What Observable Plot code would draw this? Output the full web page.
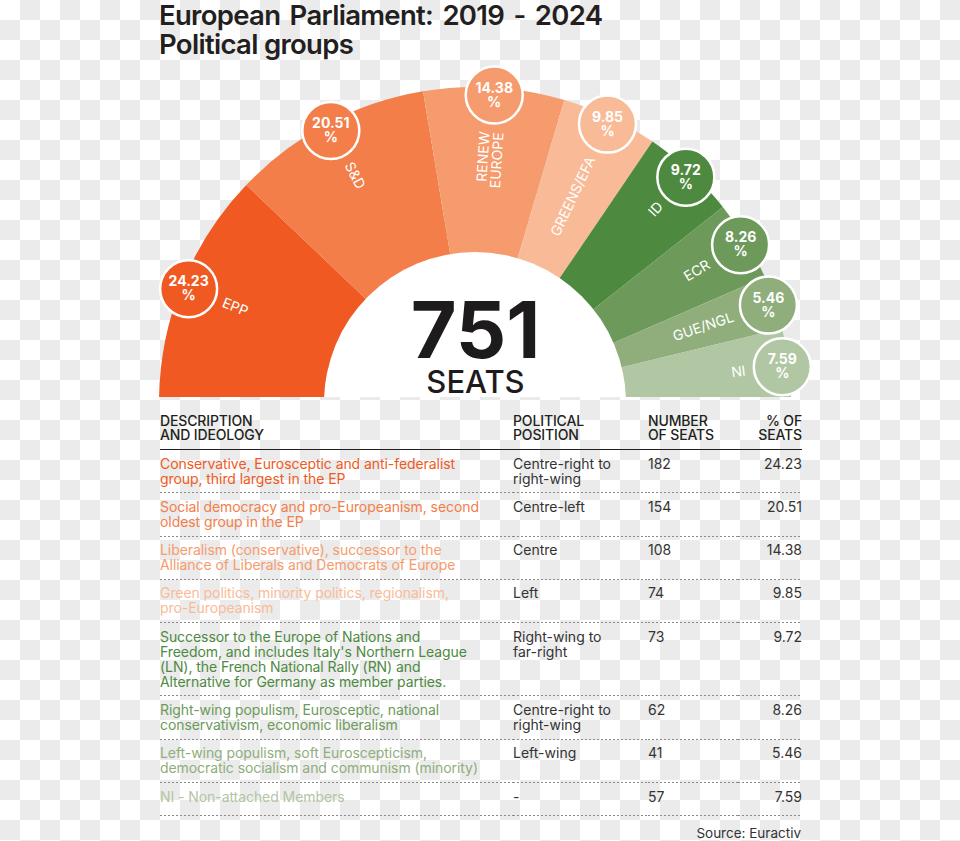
<!DOCTYPE html>
<html>
<head>
<meta charset="utf-8">
<script src="https://cdn.jsdelivr.net/npm/d3@7"></script>
<script src="https://cdn.jsdelivr.net/npm/@observablehq/plot@0.6"></script>
<style>
  html, body { margin: 0; padding: 0; }
  body {
    width: 960px; height: 841px; overflow: hidden;
    background-color: #fff;
    background-image: repeating-conic-gradient(#ebebeb 0 25%, #fff 0 50%);
    background-size: 40px 40px;
    font-family: "Inter", "Liberation Sans", sans-serif;
    color: #222;
  }
  #wrap { position: relative; width: 960px; height: 841px; }
  #title {
    position: absolute; left: 159px; top: 1px;
    font-size: 27.5px; line-height: 28.5px; font-weight: 600;
    letter-spacing: -0.025em; color: #231f20; white-space: nowrap;
  }
  #title .l1 { word-spacing: 3px; }
  #chart { position: absolute; left: 0; top: 58px; }
  #table {
    position: absolute; left: 160px; top: 410px; width: 642px;
    border-collapse: collapse; table-layout: fixed;
  }
  #table th {
    text-align: left; vertical-align: top; font-weight: 500;
    font-size: 14px; line-height: 14px; padding: 3.5px 0 7.5px 0;
    border-bottom: 1.5px solid #231f20; color: #231f20; letter-spacing: -0.01em;
  }
  #table td {
    vertical-align: top; font-size: 14px; line-height: 15px;
    padding: 5.5px 0 7.8px 0; white-space: pre; color: #333;
    background-image: linear-gradient(to right, #8a8a8a 50%, transparent 50%);
    background-size: 4px 1px; background-repeat: repeat-x; background-position: left bottom;
  }
  #table td.d { letter-spacing: -0.005em; }
  #table tr:last-child td { padding-bottom: 12.8px; }
  #table .r { text-align: right; }
  #source {
    position: absolute; right: 159px; top: 825px;
    font-size: 13.5px; color: #333;
  }
</style>
</head>
<body>
<div id="wrap">
  <div id="title"><span class="l1">European Parliament: 2019 - 2024</span><br>Political groups</div>
  <div id="chart"></div>
  <table id="table"></table>
  <div id="source">Source: Euractiv</div>
</div>
<script>
// ---- data ----
const groups = ["EPP", "S&D", "RENEW\nEUROPE", "GREENS/EFA", "ID", "ECR", "GUE/NGL", "NI"];
const seats = [182, 154, 108, 74, 73, 62, 41, 57];
const shares = [24.23, 20.51, 14.38, 9.85, 9.72, 8.26, 5.46, 7.59];
const colors = ["#f05a22", "#f37e49", "#f69b6d", "#f9bb97", "#4d8a3f", "#6d9a5a", "#8fae7c", "#b1c6a2"];
const descriptions = [
  "Conservative, Eurosceptic and anti-federalist\ngroup, third largest in the EP",
  "Social democracy and pro-Europeanism, second\noldest group in the EP",
  "Liberalism (conservative), successor to the\nAlliance of Liberals and Democrats of Europe",
  "Green politics, minority politics, regionalism,\npro-Europeanism",
  "Successor to the Europe of Nations and\nFreedom, and includes Italy's Northern League\n(LN), the French National Rally (RN) and\nAlternative for Germany as member parties.",
  "Right-wing populism, Eurosceptic, national\nconservativism, economic liberalism",
  "Left-wing populism, soft Euroscepticism,\ndemocratic socialism and communism (minority)",
  "NI - Non-attached Members"
];
const positions = ["Centre-right to\nright-wing", "Centre-left", "Centre", "Left", "Right-wing to\nfar-right", "Centre-right to\nright-wing", "Left-wing", "-"];
const headers = ["DESCRIPTION\nAND IDEOLOGY", "POLITICAL\nPOSITION", "NUMBER\nOF SEATS", "% OF\nSEATS"];

// ---- geometry (style) ----
const R_OUT = 316, R_IN = 151, R_BUBBLE = 309, R_LABEL = 272, BASE = 6;
const total = d3.sum(seats);
let cum = 0;
const rows = groups.map((g, i) => {
  const a0 = Math.PI * (1 - cum / total);
  cum += seats[i];
  const a1 = Math.PI * (1 - cum / total);
  return {group: g, seats: seats[i], share: shares[i], color: colors[i], a0, a1, mid: (a0 + a1) / 2};
});
const deg = (a) => a * 180 / Math.PI;

function wedges(index, scales) {
  const cx = scales.x(0), cy = scales.y(0);
  const k = (r) => Math.abs(scales.x(r) - scales.x(0));
  const arc = d3.arc();
  const outer = d3.create("svg:g");
  outer.append("clipPath").attr("id", "hemi").append("rect")
    .attr("x", 0).attr("y", 0).attr("width", 960).attr("height", scales.y(BASE));
  const g = outer.append("g").attr("clip-path", "url(#hemi)")
    .append("g").attr("transform", `translate(${cx},${cy})`);
  g.selectAll("path.w").data(rows).join("path")
    .attr("fill", d => d.color)
    .attr("d", d => arc({innerRadius: k(R_IN) - 1, outerRadius: k(R_OUT),
      startAngle: Math.PI / 2 - d.a0, endAngle: Math.PI / 2 - d.a1}));
  g.append("path").attr("fill", "#fff")
    .attr("d", arc({innerRadius: 0, outerRadius: k(R_IN), startAngle: -Math.PI / 2, endAngle: Math.PI / 2}));
  return outer.node();
}

const left = rows.filter(d => d.mid > Math.PI / 2);
const right = rows.filter(d => d.mid <= Math.PI / 2);
const font = "Inter, 'Liberation Sans', sans-serif";

const plot = Plot.plot({
  width: 960, height: 345, margin: 0,
  x: {type: "linear", domain: [-475, 485], range: [0, 960], axis: null},
  y: {type: "linear", domain: [0, 345], range: [345, 0], axis: null},
  color: {type: "identity"},
  style: {background: "transparent", overflow: "visible", fontFamily: font},
  marks: [
    wedges,
    Plot.text(left, {
      x: d => R_LABEL * Math.cos(d.mid), y: d => R_LABEL * Math.sin(d.mid),
      text: "group", rotate: d => 180 - deg(d.mid), textAnchor: "start",
      fill: "white", fontSize: 14, lineHeight: 1.0
    }),
    Plot.text(right, {
      x: d => R_LABEL * Math.cos(d.mid), y: d => R_LABEL * Math.sin(d.mid),
      text: "group", rotate: d => -deg(d.mid), textAnchor: "end",
      fill: "white", fontSize: 14, lineHeight: 1.0
    }),
    Plot.dot(rows, {
      x: d => R_BUBBLE * Math.cos(d.mid), y: d => R_BUBBLE * Math.sin(d.mid),
      r: 28.5, fill: "color", stroke: "white", strokeWidth: 2.5
    }),
    Plot.text(rows, {
      x: d => R_BUBBLE * Math.cos(d.mid), y: d => R_BUBBLE * Math.sin(d.mid),
      text: d => d.share.toFixed(2) + "\n%", fill: "white",
      fontSize: 14, fontWeight: 700, lineHeight: 1.0
    }),
    Plot.text([total], {
      x: () => 0, y: () => 0, text: d => String(d), dy: -46, lineAnchor: "bottom",
      fontSize: 79, fontWeight: 700, fill: "#1e1b1c"
    }),
    Plot.text(["SEATS"], {
      x: () => 0, y: () => 0, text: d => d, dy: -11, lineAnchor: "bottom",
      fontSize: 31, fontWeight: 500, fill: "#1e1b1c"
    })
  ]
});
d3.select(plot).selectAll("text").filter(function () {
  return this.getAttribute("font-size") == "79";
}).attr("letter-spacing", -5);
d3.select(plot).selectAll("text").filter(function () {
  return this.getAttribute("font-size") == "31";
}).attr("letter-spacing", 0.8);
document.getElementById("chart").appendChild(plot);

// ---- table ----
const table = d3.select("#table");
const colWidths = [353, 135, 90, 64];
table.append("colgroup").selectAll("col").data(colWidths).join("col").style("width", d => d + "px");
table.append("thead").append("tr").selectAll("th").data(headers).join("th")
  .attr("class", (d, i) => i === 3 ? "r" : null)
  .html(d => d.replace("\n", "<br>"));
const tbody = table.append("tbody");
rows.forEach((r, i) => {
  const tr = tbody.append("tr");
  tr.append("td").attr("class", "d").style("color", r.color).text(descriptions[i]);
  tr.append("td").text(positions[i]);
  tr.append("td").text(r.seats);
  tr.append("td").attr("class", "r").text(r.share.toFixed(2));
});
</script>
</body>
</html>
